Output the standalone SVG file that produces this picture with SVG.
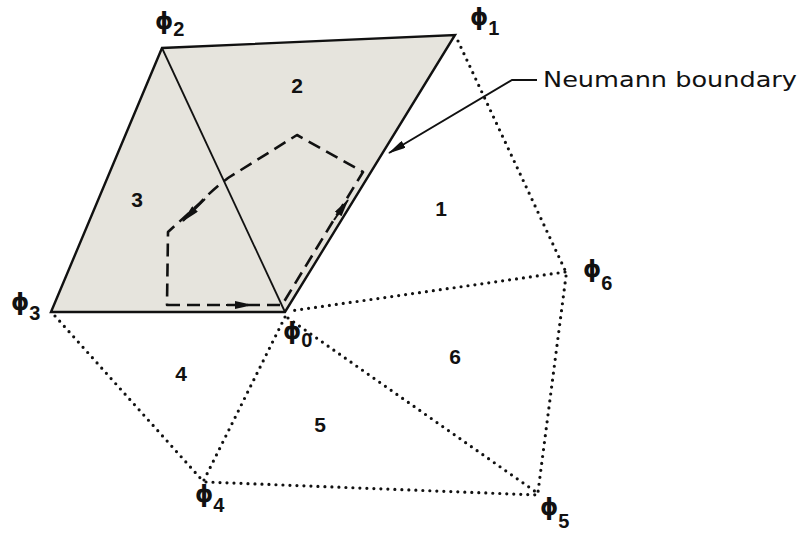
<svg xmlns="http://www.w3.org/2000/svg" width="803" height="534" viewBox="0 0 803 534">
<defs>
<style>
.solid{stroke:#111;stroke-width:2.4;stroke-linejoin:miter}
.thin{fill:none;stroke:#111;stroke-width:1.8}
.dot{fill:none;stroke:#111;stroke-width:3.2;stroke-linecap:round;stroke-dasharray:0 7}
.dash{fill:none;stroke:#111;stroke-width:2.6;stroke-dasharray:13 7;stroke-linejoin:round}
.lead{fill:none;stroke:#111;stroke-width:2}
.num{font-family:"Liberation Sans",Arial,sans-serif;font-size:21px;font-weight:bold;fill:#111;text-anchor:middle}
.phi{font-family:"DejaVu Sans","Liberation Sans",sans-serif;font-size:23px;font-weight:bold;fill:#111}
.sub{font-family:"Liberation Sans",Arial,sans-serif;font-size:20px;font-weight:bold}
.lbl{font-family:"DejaVu Sans","Liberation Sans",sans-serif;font-size:21px;fill:#111}
</style>
<marker id="ah" viewBox="0 0 18 8" refX="17" refY="4" markerWidth="18" markerHeight="8" markerUnits="userSpaceOnUse" orient="auto">
<path d="M0,0 L18,4 L0,8 Z" fill="#111"/>
</marker>
</defs>
<rect width="803" height="534" fill="#fff"/>
<g id="shaded-region">
<polygon points="51,312 162,48 455,35 285,312" fill="#e6e4dd" class="solid"/>
<line x1="162" y1="48" x2="285" y2="312" class="thin"/>
</g>
<g id="connectors">
<line x1="458" y1="41" x2="565" y2="270" class="dot"/>
<line x1="565" y1="272" x2="290" y2="311" class="dot"/>
<line x1="566" y1="276" x2="538" y2="492" class="dot"/>
<line x1="288" y1="318" x2="536" y2="492" class="dot"/>
<line x1="285" y1="317" x2="204" y2="480" class="dot"/>
<line x1="55" y1="316" x2="202" y2="480" class="dot"/>
<line x1="206" y1="482" x2="538" y2="495" class="dot"/>
<path d="M167,305 L282,305 L363,172 L297,135 L228,178 Q212,190 200,203 L168,232 Z" class="dash"/>
<path d="M226,305 L252,305" class="lead" marker-end="url(#ah)"/>
<path d="M334,220 L348,200" class="lead" marker-end="url(#ah)"/>
<path d="M205,199 L183,221" class="lead" marker-end="url(#ah)"/>
<polyline points="537,80 512,80 389,153" class="lead" marker-end="url(#ah)"/>
</g>
<g id="labels">
<text class="num" x="297" y="93">2</text>
<text class="num" x="137" y="207">3</text>
<text class="num" x="441" y="216">1</text>
<text class="num" x="181" y="381">4</text>
<text class="num" x="320" y="432">5</text>
<text class="num" x="455" y="364">6</text>
<text class="lbl" x="543" y="87" textLength="254" lengthAdjust="spacingAndGlyphs">Neumann boundary</text>
</g>
<g id="phi0"><text class="phi" x="283" y="339">ϕ<tspan class="sub" dy="8">0</tspan></text></g>
<g id="phi1"><text class="phi" x="470" y="25">ϕ<tspan class="sub" dy="10">1</tspan></text></g>
<g id="phi2"><text class="phi" x="155" y="29">ϕ<tspan class="sub" dy="7">2</tspan></text></g>
<g id="phi3"><text class="phi" x="11" y="310">ϕ<tspan class="sub" dy="10">3</tspan></text></g>
<g id="phi4"><text class="phi" x="195" y="502">ϕ<tspan class="sub" dy="10">4</tspan></text></g>
<g id="phi5"><text class="phi" x="540" y="515">ϕ<tspan class="sub" dy="13">5</tspan></text></g>
<g id="phi6"><text class="phi" x="583" y="277">ϕ<tspan class="sub" dy="13">6</tspan></text></g>
</svg>
